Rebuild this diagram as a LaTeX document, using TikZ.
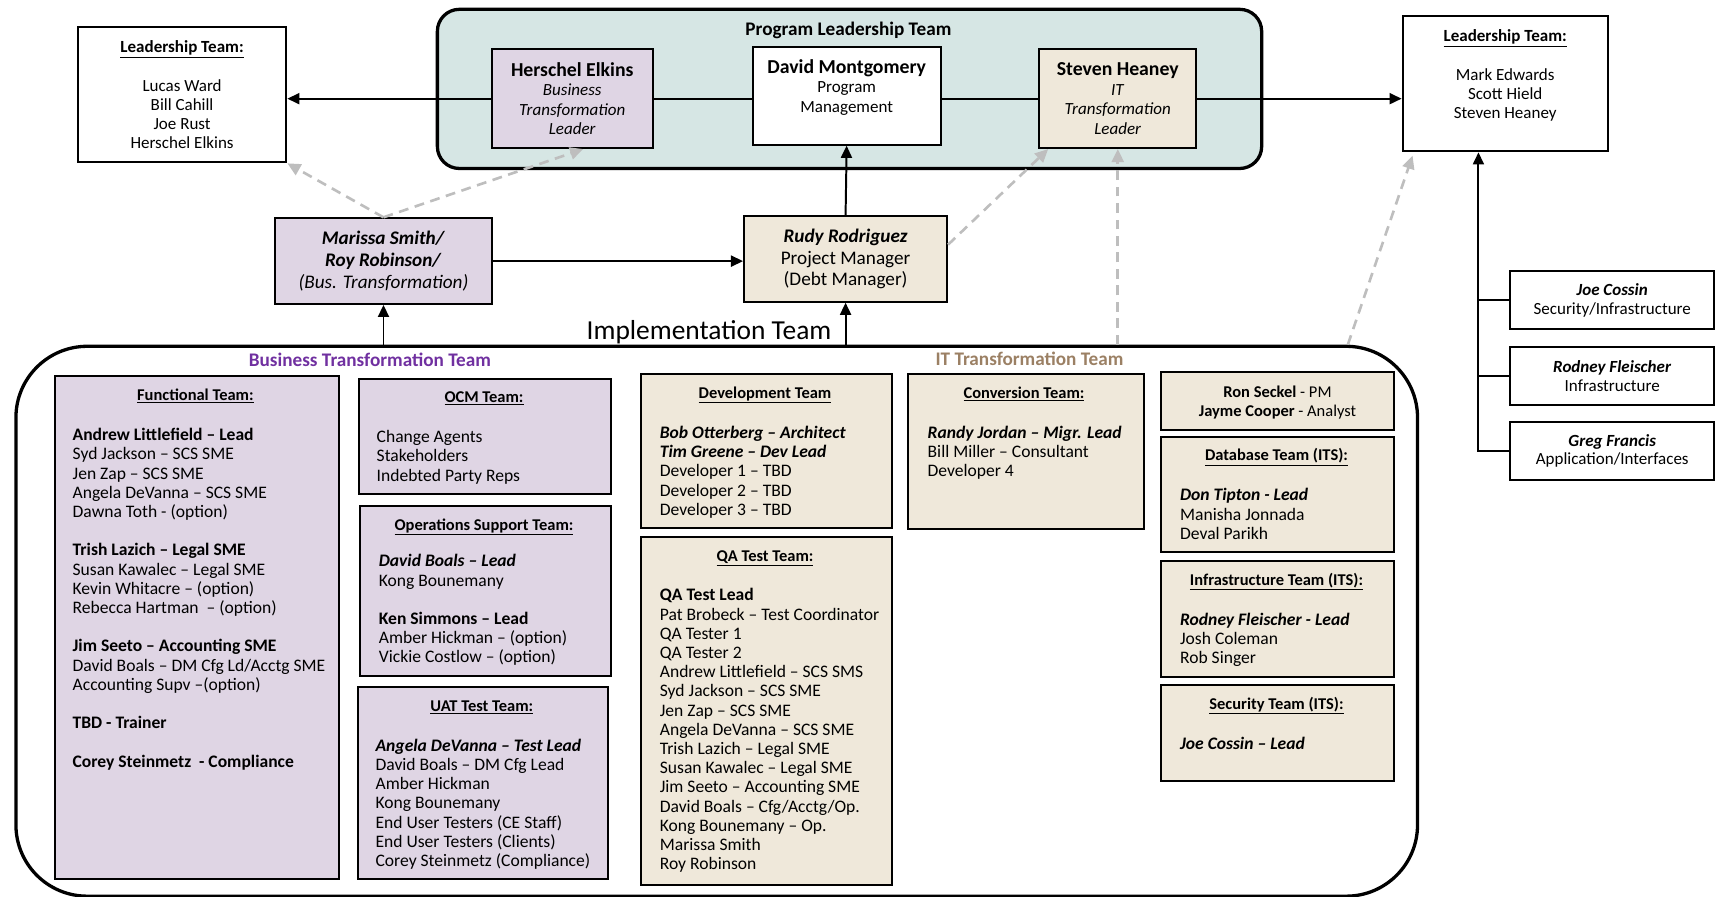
\documentclass[tikz,border=0pt]{standalone}
\usepackage{fontspec}
\setmainfont{Carlito}
\usetikzlibrary{arrows.meta}

\definecolor{plteal}{RGB}{214,230,228}
\definecolor{bizlav}{RGB}{223,213,228}
\definecolor{itbeige}{RGB}{239,232,218}
\definecolor{bizpurple}{RGB}{112,48,160}
\definecolor{ittan}{RGB}{155,128,100}
\definecolor{dashgray}{RGB}{190,190,190}

\begin{document}
\begin{tikzpicture}[x=1pt, y=-1pt,
  box/.style={draw, line width=1.8pt, anchor=north west, inner sep=0pt, align=center},
  team/.style={draw, line width=1.8pt, anchor=north west, inner sep=0pt},
  frame/.style={draw, line width=3pt, anchor=north west, inner sep=0pt},
  head/.style={anchor=base, font=\fontsize{15}{17}\selectfont\bfseries},
  list/.style={anchor=north west, inner sep=0pt, align=left, font=\fontsize{16}{17.5}\selectfont},
  arr/.style={line width=1.8pt, -{Triangle[length=11pt, width=10pt]}},
  link/.style={line width=1.8pt},
  dasharr/.style={draw=dashgray, line width=2.4pt, dash pattern=on 9pt off 6pt, -{Triangle[length=12pt, width=11pt]}}
]
\useasboundingbox (0,0) rectangle (1568,817);

% program leadership
\node[frame, rounded corners=20pt, fill=plteal, minimum width=751pt, minimum height=145pt] (plt) at (397,7) {};
\node[head, font=\fontsize{17.5}{19}\selectfont\bfseries] (plttitle) at (773,32) {Program Leadership Team};
\node[box, fill=bizlav, minimum width=147pt, minimum height=90pt, font=\fontsize{15.5}{17.7}\selectfont] (herschel) at (447,44)
  {{\fontsize{18}{17.7}\selectfont\bfseries Herschel Elkins}\\ \textit{Business}\\ \textit{Transformation}\\ \textit{Leader}};
\node[box, fill=white, minimum width=171pt, minimum height=89pt, font=\fontsize{15.5}{18}\selectfont] (david) at (685,42)
  {{\fontsize{18}{18}\selectfont\bfseries David Montgomery}\\ Program\\ Management\\ \mbox{}};
\node[box, fill=itbeige, minimum width=143pt, minimum height=90pt, font=\fontsize{15.5}{17.7}\selectfont] (steven) at (946,44)
  {{\fontsize{18}{17.7}\selectfont\bfseries Steven Heaney}\\ \textit{IT}\\ \textit{Transformation}\\ \textit{Leader}};

% leadership teams
\node[box, minimum width=190pt, minimum height=123pt, font=\fontsize{15.5}{17.5}\selectfont] (lteam) at (70,24)
  {\textbf{\underline{Leadership Team:}}\\[17.5pt] Lucas Ward\\ Bill Cahill\\ Joe Rust\\ Herschel Elkins};
\node[box, minimum width=187pt, minimum height=123pt, font=\fontsize{15.5}{17.5}\selectfont] (rteam) at (1277,14)
  {\textbf{\underline{Leadership Team:}}\\[17.5pt] Mark Edwards\\ Scott Hield\\ Steven Heaney\\ \mbox{}};

% managers
\node[box, fill=bizlav, minimum width=197pt, minimum height=78pt, font=\fontsize{17.5}{20}\selectfont] (marissa) at (250,198)
  {\textbf{\textit{Marissa Smith/}}\\ \textbf{\textit{Roy Robinson/}}\\ \textit{(Bus. Transformation)}};
\node[box, fill=itbeige, minimum width=185pt, minimum height=78pt, font=\fontsize{17.5}{20}\selectfont] (rudy) at (677,196)
  {\textbf{\textit{Rudy Rodriguez}}\\ Project Manager\\ (Debt Manager)};

% implementation team
\node[frame, rounded corners=65pt, minimum width=1277pt, minimum height=501pt] (impl) at (13,314) {};
\node[anchor=base, font=\fontsize{25}{28}\selectfont] (impltitle) at (646,309) {Implementation Team};
\node[anchor=base, font=\fontsize{17.5}{19}\selectfont\bfseries, text=bizpurple] (biztitle) at (337,334) {Business Transformation Team};
\node[anchor=base, font=\fontsize{17.5}{19}\selectfont\bfseries, text=ittan] (ittitle) at (938,333) {IT Transformation Team};

% business transformation boxes
\node[team, fill=bizlav, minimum width=259pt, minimum height=458pt] (func) at (49,342) {};
\node[head] (funchead) at (178,365) {\underline{Functional Team:}};
\node[list] (funclist) at (66,390) {\textbf{Andrew Littlefield – Lead}\\ Syd Jackson – SCS SME\\ Jen Zap – SCS SME\\ Angela DeVanna – SCS SME\\ Dawna Toth - (option)\\[17.5pt]
  \textbf{Trish Lazich – Legal SME}\\ Susan Kawalec – Legal SME\\ Kevin Whitacre – (option)\\ Rebecca Hartman~ – (option)\\[17.5pt]
  \textbf{Jim Seeto – Accounting SME}\\ David Boals – DM Cfg Ld/Acctg SME\\ Accounting Supv –(option)\\[17.5pt]
  \textbf{TBD - Trainer}\\[17.5pt] \textbf{Corey Steinmetz~ - Compliance}};

\node[team, fill=bizlav, minimum width=230pt, minimum height=105pt] (ocm) at (326,344) {};
\node[head] (ocmhead) at (441,367) {\underline{OCM Team:}};
\node[list] (ocmlist) at (343,392) {Change Agents\\ Stakeholders\\ Indebted Party Reps};

\node[team, fill=bizlav, minimum width=229pt, minimum height=155pt] (ops) at (327,460) {};
\node[head] (opshead) at (441,483) {\underline{Operations Support Team:}};
\node[list] (opslist) at (345,505) {\textbf{\textit{David Boals – Lead}}\\ Kong Bounemany\\[17.5pt]
  \textbf{Ken Simmons – Lead}\\ Amber Hickman – (option)\\ Vickie Costlow – (option)};

\node[team, fill=bizlav, minimum width=228pt, minimum height=175pt] (uat) at (325,625) {};
\node[head] (uathead) at (439,648) {\underline{UAT Test Team:}};
\node[list] (uatlist) at (342,673) {\textbf{\textit{Angela DeVanna – Test Lead}}\\ David Boals – DM Cfg Lead\\ Amber Hickman\\ Kong Bounemany\\
  End User Testers (CE Staff)\\ End User Testers (Clients)\\ Corey Steinmetz (Compliance)};

% IT transformation boxes
\node[team, fill=itbeige, minimum width=229pt, minimum height=140pt] (dev) at (583,340) {};
\node[head] (devhead) at (697,363) {\underline{Development Team}};
\node[list] (devlist) at (601,388) {\textbf{\textit{Bob Otterberg – Architect}}\\ \textbf{\textit{Tim Greene – Dev Lead}}\\
  Developer 1 – TBD\\ Developer 2 – TBD\\ Developer 3 – TBD};

\node[team, fill=itbeige, minimum width=229pt, minimum height=317pt] (qa) at (583,488) {};
\node[head] (qahead) at (697,512) {\underline{QA Test Team:}};
\node[list] (qalist) at (601,536) {\textbf{QA Test Lead}\\ Pat Brobeck – Test Coordinator\\ QA Tester 1\\ QA Tester 2\\
  Andrew Littlefield – SCS SMS\\ Syd Jackson – SCS SME\\ Jen Zap – SCS SME\\ Angela DeVanna – SCS SME\\
  Trish Lazich – Legal SME\\ Susan Kawalec – Legal SME\\ Jim Seeto – Accounting SME\\ David Boals – Cfg/Acctg/Op.\\
  Kong Bounemany – Op.\\ Marissa Smith\\ Roy Robinson};

\node[team, fill=itbeige, minimum width=215pt, minimum height=141pt] (conv) at (826,340) {};
\node[head] (convhead) at (933,363) {\underline{Conversion Team:}};
\node[list] (convlist) at (845,388) {\textbf{\textit{Randy Jordan – Migr. Lead}}\\ Bill Miller – Consultant\\ Developer 4};

\node[team, fill=itbeige, minimum width=212pt, minimum height=53pt] (ronbox) at (1057,338) {};
\node[list, anchor=center, align=center, font=\fontsize{15}{17.5}\selectfont] (ron) at ([yshift=-1pt]ronbox.center) {\textbf{Ron Seckel} - PM\\ \textbf{Jayme Cooper} - Analyst};

\node[team, fill=itbeige, minimum width=212pt, minimum height=105pt] (db) at (1057,397) {};
\node[head] (dbhead) at (1163,420) {\underline{Database Team (ITS):}};
\node[list] (dblist) at (1075,445) {\textbf{\textit{Don Tipton - Lead}}\\ Manisha Jonnada\\ Deval Parikh};

\node[team, fill=itbeige, minimum width=212pt, minimum height=106pt] (infra) at (1057,510) {};
\node[head] (infrahead) at (1163,533) {\underline{Infrastructure Team (ITS):}};
\node[list] (infralist) at (1075,558) {\textbf{\textit{Rodney Fleischer - Lead}}\\ Josh Coleman\\ Rob Singer};

\node[team, fill=itbeige, minimum width=212pt, minimum height=88pt] (sec) at (1057,623) {};
\node[head] (sechead) at (1163,646) {\underline{Security Team (ITS):}};
\node[list] (seclist) at (1075,671) {\textbf{\textit{Joe Cossin – Lead}}};

% infrastructure leads
\node[box, minimum width=186pt, minimum height=53pt, font=\fontsize{15.5}{17}\selectfont] (joe) at (1375,246) {\textbf{\textit{Joe Cossin}}\\ Security/Infrastructure};
\node[box, minimum width=186pt, minimum height=53pt, font=\fontsize{15.5}{17}\selectfont] (rodney) at (1375,315) {\textbf{\textit{Rodney Fleischer}}\\ Infrastructure};
\node[box, minimum width=186pt, minimum height=52pt, font=\fontsize{15.5}{17}\selectfont] (greg) at (1375,384) {\textbf{\textit{Greg Francis}}\\ Application/Interfaces};
\coordinate (trunk) at (1347,411);
\coordinate (itcorner) at (1228,314);

% connectors
\draw[arr] (herschel.west) -- (herschel.west -| lteam.east);
\draw[link] (herschel.east) -- (herschel.east -| david.west);
\draw[link] (steven.west) -- (steven.west -| david.east);
\draw[arr] (steven.east) -- (steven.east -| rteam.west);
\draw[arr] (rudy.north) -- (david.south);
\draw[arr] (marissa.east) -- (marissa.east -| rudy.west);
\draw[arr] (impl.north -| marissa.south) -- (marissa.south);
\draw[arr] (impl.north -| rudy.south) -- (rudy.south);
\draw[link] (joe.west) -- (joe.west -| trunk);
\draw[link] (rodney.west) -- (rodney.west -| trunk);
\draw[arr] (greg.west) -- (greg.west -| trunk) -- (trunk |- rteam.south);

\draw[dasharr] (marissa.north) -- (lteam.south east);
\draw[dasharr] (marissa.north) -- ([xshift=10pt]herschel.south);
\draw[dasharr] ([yshift=13pt]rudy.east) -- ([xshift=9pt]steven.south west);
\draw[dasharr] (impl.north -| steven.south) -- (steven.south);
\draw[dasharr] (itcorner) -- ([xshift=10pt,yshift=-3pt]rteam.south west);
\end{tikzpicture}
\end{document}
